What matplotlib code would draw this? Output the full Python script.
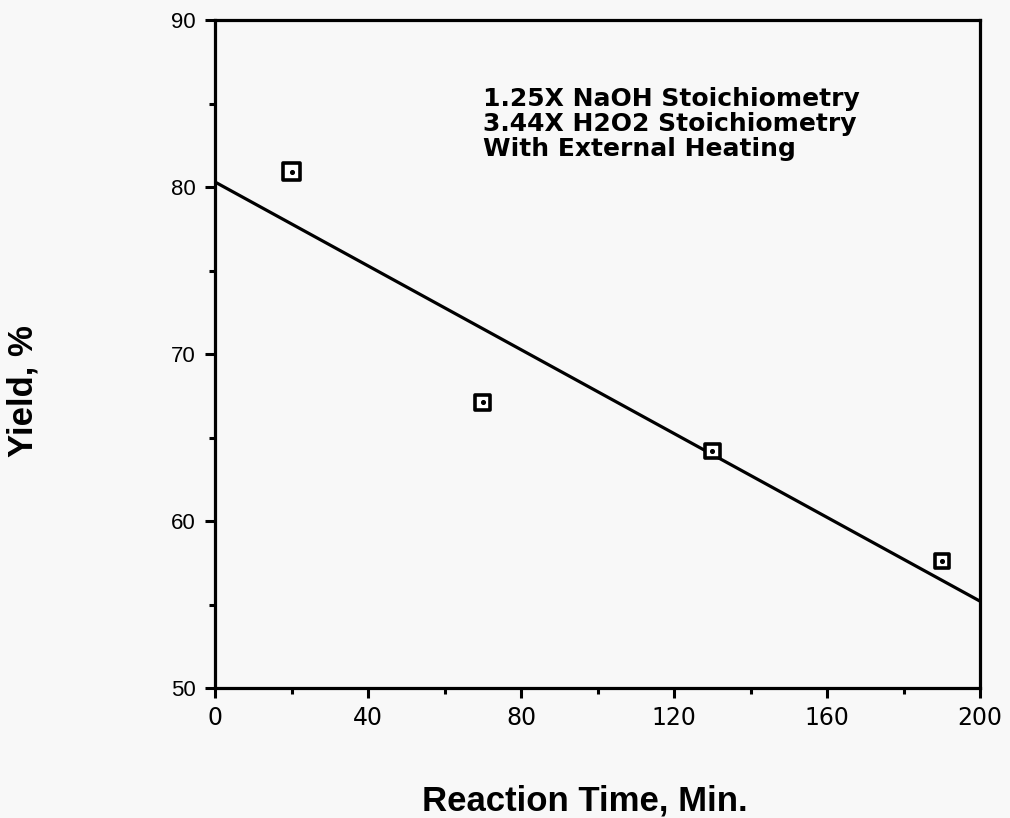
import matplotlib
matplotlib.use("Agg")
import matplotlib.pyplot as plt
from matplotlib.ticker import MultipleLocator

# data
time_min = [20, 70, 130, 190]
yield_pct = [80.9, 67.1, 64.2, 57.6]
fit_x = [0, 200]
fit_y = [80.3, 55.2]
note_lines = ['1.25X NaOH Stoichiometry',
              '3.44X H2O2 Stoichiometry',
              'With External Heating']

W, H = 1010, 818
bg = '#f8f8f8'

fig = plt.figure(figsize=(W / 100, H / 100), dpi=100, facecolor=bg)
ax = fig.add_axes([215 / W, 1 - 688 / H, 765 / W, 668 / H])
ax.set_facecolor(bg)

ax.plot(fit_x, fit_y, color='black', linewidth=2.3, solid_capstyle='butt')
ax.scatter(time_min, yield_pct, marker='s', s=[150, 110, 110, 100],
           facecolor='white', edgecolor='black', linewidths=2.6, zorder=3)
ax.scatter(time_min, yield_pct, marker='o', s=7, color='black', zorder=4)

ax.set_xlim(0, 200)
ax.set_ylim(50, 90)
ax.xaxis.set_major_locator(MultipleLocator(40))
ax.xaxis.set_minor_locator(MultipleLocator(20))
ax.yaxis.set_major_locator(MultipleLocator(10))
ax.yaxis.set_minor_locator(MultipleLocator(5))
ax.tick_params(which='both', direction='out', width=2.2)
ax.tick_params(which='major', length=7)
ax.tick_params(which='minor', length=4)
ax.tick_params(axis='x', pad=6)
ax.tick_params(axis='y', pad=7)
for lab in ax.get_xticklabels():
    lab.set_fontfamily('DejaVu Sans')
    lab.set_fontsize(17)
for lab in ax.get_yticklabels():
    lab.set_fontfamily('Liberation Sans')
    lab.set_fontsize(16)
for s in ax.spines.values():
    s.set_linewidth(2.3)

# axis titles placed in pixel positions of the original
fig.text(585 / W, 1 - 810 / H, 'Reaction Time, Min.', fontsize=25,
         fontweight='bold', family='Liberation Sans', ha='center', va='baseline')
fig.text(40 / W, 1 - 391 / H, 'Yield, %', fontsize=25, rotation=90,
         fontweight='bold', family='Liberation Sans', ha='right', va='center')

for i, line in enumerate(note_lines):
    fig.text(483 / W, 1 - (106 + 25 * i) / H, line, fontsize=18,
             fontweight='bold', family='DejaVu Sans', ha='left', va='baseline')

fig.savefig('out.png', dpi=100, facecolor=fig.get_facecolor())
